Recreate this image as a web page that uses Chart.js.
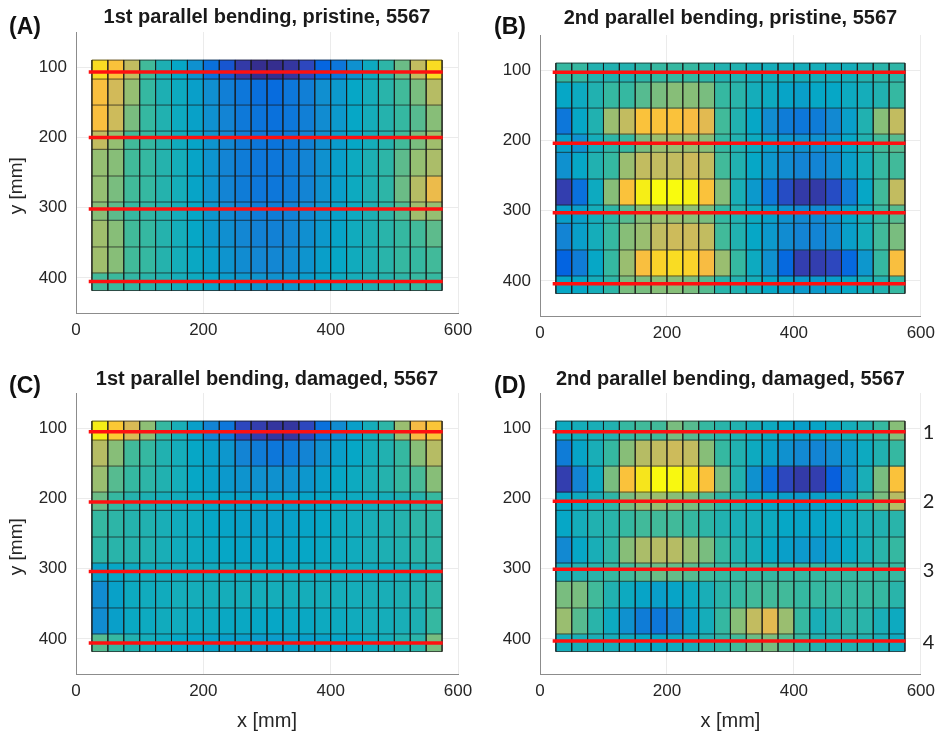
<!DOCTYPE html>
<html>
<head>
<meta charset="utf-8">
<script src="https://cdn.jsdelivr.net/npm/chart.js@4.4.1/dist/chart.umd.min.js"></script>
<style>
body { margin: 0; background: #fff; width: 942px; height: 733px; position: relative; overflow: hidden; }
.panel { position: absolute; }
.tag { position: absolute; font: bold 23px "Liberation Sans", Arial, sans-serif; color: #111; line-height: 26px; }
</style>
</head>
<body>
<div class="panel" style="left:0;top:0"><canvas id="chartA" width="490" height="360"></canvas></div>
<div class="panel" style="left:470px;top:0"><canvas id="chartB" width="472" height="360"></canvas></div>
<div class="panel" style="left:0;top:360px"><canvas id="chartC" width="490" height="373"></canvas></div>
<div class="panel" style="left:470px;top:360px"><canvas id="chartD" width="472" height="373"></canvas></div>
<div class="tag" style="left:9px;top:13px">(A)</div>
<div class="tag" style="left:494px;top:13px">(B)</div>
<div class="tag" style="left:9px;top:372px">(C)</div>
<div class="tag" style="left:494px;top:372px">(D)</div>
<script>
// grid of measurement cells (mm)
const xCenters = [37.5, 62.5, 87.5, 112.5, 137.5, 162.5, 187.5, 212.5, 237.5, 262.5, 287.5,
                  312.5, 337.5, 362.5, 387.5, 412.5, 437.5, 462.5, 487.5, 512.5, 537.5, 562.5];
const cellWidth = 25;
const yEdges = [90, 117, 154, 191, 217, 255, 292, 318, 356, 393, 418];
const xTicks = [0, 200, 400, 600];
const yTicks = [100, 200, 300, 400];

// red sensor lines
const redLineX = [20, 576];
const redA = [107, 200, 302, 405];
const redB = [103, 204, 303, 404];
const redC = [105, 205, 304, 406];
const redD = [105, 204, 301, 403];
const lineLabels = ['1', '2', '3', '4'];
const lineLabelPos = [107, 205, 303, 405];

// normalised mode shape amplitude per cell (0..100), rows top to bottom
const valuesA = [
  [92, 85, 72, 52, 44, 38, 30, 18, 10, 4, 1, 1, 3, 7, 14, 20, 30, 40, 48, 58, 72, 92],
  [84, 75, 64, 50, 44, 40, 35, 29, 23, 20, 17, 16, 20, 23, 29, 33, 38, 42, 47, 52, 60, 70],
  [84, 74, 60, 50, 45, 40, 36, 30, 25, 21, 19, 18, 20, 23, 28, 33, 38, 42, 46, 50, 55, 62],
  [72, 64, 52, 50, 46, 41, 37, 31, 26, 22, 20, 19, 21, 24, 29, 34, 38, 42, 46, 52, 60, 66],
  [64, 62, 52, 50, 46, 42, 37, 31, 25, 22, 20, 20, 22, 25, 30, 35, 40, 44, 48, 56, 64, 68],
  [64, 60, 52, 50, 46, 42, 37, 31, 25, 22, 20, 20, 22, 25, 30, 35, 40, 44, 48, 58, 70, 80],
  [62, 56, 50, 49, 46, 42, 38, 32, 27, 24, 22, 22, 24, 27, 31, 36, 40, 44, 48, 54, 66, 64],
  [66, 62, 52, 50, 46, 42, 38, 33, 29, 26, 24, 24, 26, 29, 33, 37, 41, 44, 47, 50, 52, 56],
  [66, 62, 52, 50, 46, 42, 39, 35, 31, 28, 26, 26, 28, 31, 35, 38, 41, 44, 47, 50, 50, 52],
  [52, 51, 49, 47, 45, 42, 40, 37, 34, 32, 31, 30, 32, 34, 37, 40, 42, 44, 46, 48, 50, 50]
];
const valuesB = [
  [50, 50, 45, 45, 45, 48, 50, 50, 50, 48, 45, 45, 42, 42, 42, 42, 42, 42, 42, 45, 47, 48],
  [38, 40, 45, 50, 50, 55, 60, 62, 62, 60, 50, 47, 42, 40, 37, 35, 38, 38, 40, 42, 45, 50],
  [20, 38, 45, 65, 72, 85, 85, 85, 83, 78, 52, 45, 38, 28, 22, 20, 22, 27, 35, 45, 62, 72],
  [35, 30, 42, 48, 50, 60, 65, 65, 65, 62, 50, 45, 40, 35, 32, 30, 30, 32, 38, 45, 52, 55],
  [30, 38, 45, 50, 65, 72, 72, 72, 74, 72, 52, 45, 38, 32, 28, 25, 25, 28, 35, 42, 50, 52],
  [5, 18, 40, 62, 85, 96, 100, 100, 97, 85, 62, 43, 33, 20, 8, 4, 4, 8, 22, 38, 52, 72],
  [35, 35, 42, 48, 55, 62, 65, 65, 63, 60, 50, 45, 40, 35, 30, 27, 27, 30, 37, 43, 50, 55],
  [25, 35, 42, 50, 62, 65, 72, 74, 74, 72, 52, 45, 38, 33, 28, 25, 25, 28, 35, 42, 52, 60],
  [13, 22, 38, 50, 65, 84, 90, 92, 90, 83, 65, 50, 40, 30, 15, 5, 5, 7, 15, 32, 50, 84],
  [38, 38, 42, 48, 60, 60, 62, 62, 60, 55, 47, 45, 42, 38, 35, 33, 33, 35, 38, 42, 45, 50]
];
const valuesC = [
  [96, 87, 76, 63, 50, 43, 35, 25, 20, 7, 5, 3, 3, 7, 18, 28, 35, 42, 48, 65, 82, 86],
  [70, 62, 52, 50, 45, 42, 38, 35, 32, 25, 22, 20, 22, 25, 30, 35, 38, 42, 45, 50, 62, 70],
  [65, 55, 50, 48, 45, 42, 38, 36, 33, 31, 30, 30, 30, 32, 35, 38, 40, 43, 46, 50, 53, 62],
  [58, 50, 46, 44, 42, 41, 40, 38, 37, 36, 36, 36, 36, 37, 38, 39, 40, 41, 42, 44, 46, 50],
  [50, 48, 46, 45, 43, 41, 40, 38, 37, 36, 35, 35, 36, 37, 38, 40, 41, 43, 44, 46, 48, 48],
  [48, 47, 46, 45, 43, 41, 40, 39, 38, 37, 37, 37, 37, 38, 39, 40, 41, 43, 44, 45, 47, 48],
  [36, 38, 40, 41, 41, 41, 41, 41, 41, 41, 41, 41, 41, 41, 41, 41, 41, 41, 41, 42, 43, 45],
  [28, 36, 40, 41, 41, 42, 42, 42, 42, 42, 42, 42, 42, 42, 42, 42, 42, 43, 43, 44, 45, 48],
  [28, 35, 39, 40, 41, 41, 40, 40, 39, 39, 38, 38, 39, 39, 40, 40, 41, 42, 42, 43, 44, 50],
  [55, 50, 45, 42, 40, 38, 37, 36, 35, 35, 34, 34, 35, 35, 36, 37, 38, 40, 42, 45, 47, 60]
];
const valuesD = [
  [40, 42, 43, 45, 50, 52, 52, 60, 55, 50, 47, 45, 42, 40, 38, 35, 37, 40, 42, 45, 50, 62],
  [22, 37, 43, 50, 62, 70, 72, 74, 72, 62, 50, 45, 40, 35, 30, 27, 25, 28, 33, 40, 45, 50],
  [5, 25, 40, 60, 85, 94, 100, 99, 94, 85, 60, 45, 30, 18, 7, 4, 5, 12, 30, 43, 60, 85],
  [38, 40, 43, 48, 60, 65, 65, 62, 60, 55, 48, 45, 40, 38, 35, 33, 35, 37, 40, 50, 60, 70],
  [38, 42, 45, 47, 50, 52, 52, 52, 50, 48, 45, 43, 42, 40, 38, 37, 37, 38, 40, 43, 45, 47],
  [27, 38, 43, 48, 62, 68, 70, 70, 65, 60, 50, 45, 42, 38, 35, 33, 32, 35, 38, 43, 47, 50],
  [42, 45, 47, 50, 52, 55, 58, 57, 55, 52, 50, 50, 50, 50, 50, 50, 50, 50, 50, 50, 50, 50],
  [60, 60, 52, 45, 40, 37, 35, 37, 40, 43, 47, 50, 52, 52, 52, 50, 50, 50, 50, 50, 50, 47],
  [65, 55, 47, 40, 30, 22, 20, 25, 35, 42, 50, 62, 72, 78, 65, 50, 43, 45, 48, 47, 43, 40],
  [42, 43, 43, 42, 40, 38, 38, 40, 42, 45, 48, 52, 58, 60, 55, 50, 45, 45, 45, 45, 43, 40]
];

// parula colour map stops
const parulaStops = [
  [0, 53, 42, 135], [6.3, 50, 67, 186], [12.7, 3, 99, 225], [25.4, 20, 133, 212],
  [38.1, 6, 167, 198], [50.8, 56, 185, 158], [63.5, 146, 191, 115], [76.2, 217, 186, 86],
  [82.5, 248, 187, 68], [88.9, 252, 206, 46], [95.2, 245, 235, 24], [100, 249, 251, 14]
];
function parula(v) {
  for (let i = 1; i < parulaStops.length; i++) {
    const a = parulaStops[i - 1], b = parulaStops[i];
    if (v <= b[0]) {
      const t = (v - a[0]) / (b[0] - a[0]);
      const c = [1, 2, 3].map(k => Math.round(a[k] + (b[k] - a[k]) * t));
      return 'rgb(' + c.join(',') + ')';
    }
  }
  return 'rgb(249,251,14)';
}

const FONT = '"Liberation Sans", Arial, sans-serif';
const TXT = '#262626';

function cellDatasets(values) {
  return values.map((row, r) => ({
    type: 'bar',
    data: xCenters.map(x => ({ x: x, y: [yEdges[r], yEdges[r + 1]] })),
    backgroundColor: row.map(parula),
    borderWidth: 0,
    grouped: false,
    barPercentage: 1,
    categoryPercentage: 1,
    order: 3
  }));
}

// dark edges between the cells, one broken line through all edges
function edgeDataset() {
  const pts = [];
  const top = yEdges[0], bottom = yEdges[yEdges.length - 1];
  const xEdges = xCenters.map(x => x - cellWidth / 2).concat([xCenters[xCenters.length - 1] + cellWidth / 2]);
  xEdges.forEach(x => { pts.push({ x: x, y: top }, { x: x, y: bottom }, { x: x, y: null }); });
  yEdges.forEach(y => { pts.push({ x: xEdges[0], y: y }, { x: xEdges[xEdges.length - 1], y: y }, { x: xEdges[0], y: null }); });
  return {
    type: 'line', data: pts, borderColor: 'rgba(25,25,25,0.7)', borderWidth: 1,
    pointRadius: 0, spanGaps: false, order: 2
  };
}

function redDatasets(ys) {
  return ys.map(y => ({
    type: 'line',
    data: redLineX.map(x => ({ x: x, y: y })),
    borderColor: '#ff1010',
    borderWidth: 3.5,
    pointRadius: 0,
    order: 1
  }));
}

function makePanel(id, p) {
  const scales = {
    x: {
      type: 'linear', min: 0, max: 600, offset: false,
      afterBuildTicks: s => { s.ticks = xTicks.map(v => ({ value: v })); },
      afterFit: s => { s.height = p.xh; },
      grid: { color: '#ebebeb', drawTicks: false, offset: false },
      border: { color: '#8c8c8c' },
      ticks: { padding: 7, color: TXT, font: { family: FONT, size: 17 }, autoSkip: false, maxRotation: 0 },
      title: { display: p.xTitle, text: 'x [mm]', color: TXT, font: { family: FONT, size: 20 }, padding: { top: 0, bottom: 0 } }
    },
    y: {
      type: 'linear', reverse: true, min: 50, max: 450,
      afterBuildTicks: s => { s.ticks = yTicks.map(v => ({ value: v })); },
      afterFit: s => { s.width = p.yw; },
      grid: { color: '#ebebeb', drawTicks: false },
      border: { color: '#8c8c8c' },
      ticks: { padding: 9, color: TXT, font: { family: FONT, size: 17 }, autoSkip: false },
      // trailing spaces push the rotated label a little below the axis centre, as in the figure
      title: { display: p.yTitle, text: 'y [mm]     ', color: TXT, font: { family: FONT, size: 19 }, padding: { top: 5, bottom: 0 } }
    }
  };
  if (p.numbers) {
    scales.y2 = {
      type: 'linear', position: 'right', reverse: true, min: 50, max: 450,
      afterBuildTicks: s => { s.ticks = lineLabelPos.map(v => ({ value: v })); },
      afterFit: s => { s.width = 20; },
      grid: { drawOnChartArea: false, drawTicks: false },
      border: { display: false },
      ticks: { padding: 2, color: '#222', font: { family: 'Lato, "Open Sans", sans-serif', size: 20 },
               autoSkip: false, callback: (v, i) => lineLabels[i] }
    };
  }
  return new Chart(document.getElementById(id), {
    type: 'bar',
    data: { datasets: cellDatasets(p.values).concat([edgeDataset()], redDatasets(p.red)) },
    options: {
      responsive: false,
      animation: false,
      devicePixelRatio: 1,
      layout: { padding: p.pad },
      plugins: {
        legend: { display: false },
        tooltip: { enabled: false },
        title: {
          display: true, text: p.title, fullSize: false, color: '#1a1a1a',
          font: { family: FONT, size: 20, weight: 'bold' },
          padding: p.titlePad
        }
      },
      scales: scales
    }
  });
}

makePanel('chartA', {
  values: valuesA, red: redA, title: '1st parallel bending, pristine, 5567',
  pad: { left: 0, top: 0, right: 32, bottom: 7 }, titlePad: { top: 5, bottom: 3 },
  xh: 40, yw: 76, xTitle: false, yTitle: true
});
makePanel('chartB', {
  values: valuesB, red: redB, title: '2nd parallel bending, pristine, 5567',
  pad: { left: 0, top: 0, right: 20, bottom: 4 }, titlePad: { top: 6, bottom: 5 },
  xh: 40, yw: 70, xTitle: false, yTitle: false
});
makePanel('chartC', {
  values: valuesC, red: redC, title: '1st parallel bending, damaged, 5567',
  pad: { left: 0, top: 0, right: 32, bottom: 0 }, titlePad: { top: 7, bottom: 2 },
  xh: 59, yw: 76, xTitle: true, yTitle: true
});
makePanel('chartD', {
  values: valuesD, red: redD, title: '2nd parallel bending, damaged, 5567',
  pad: { left: 0, top: 0, right: 0, bottom: 0 }, titlePad: { top: 7, bottom: 2 },
  xh: 59, yw: 70, xTitle: true, yTitle: false, numbers: true
});
</script>
</body>
</html>
